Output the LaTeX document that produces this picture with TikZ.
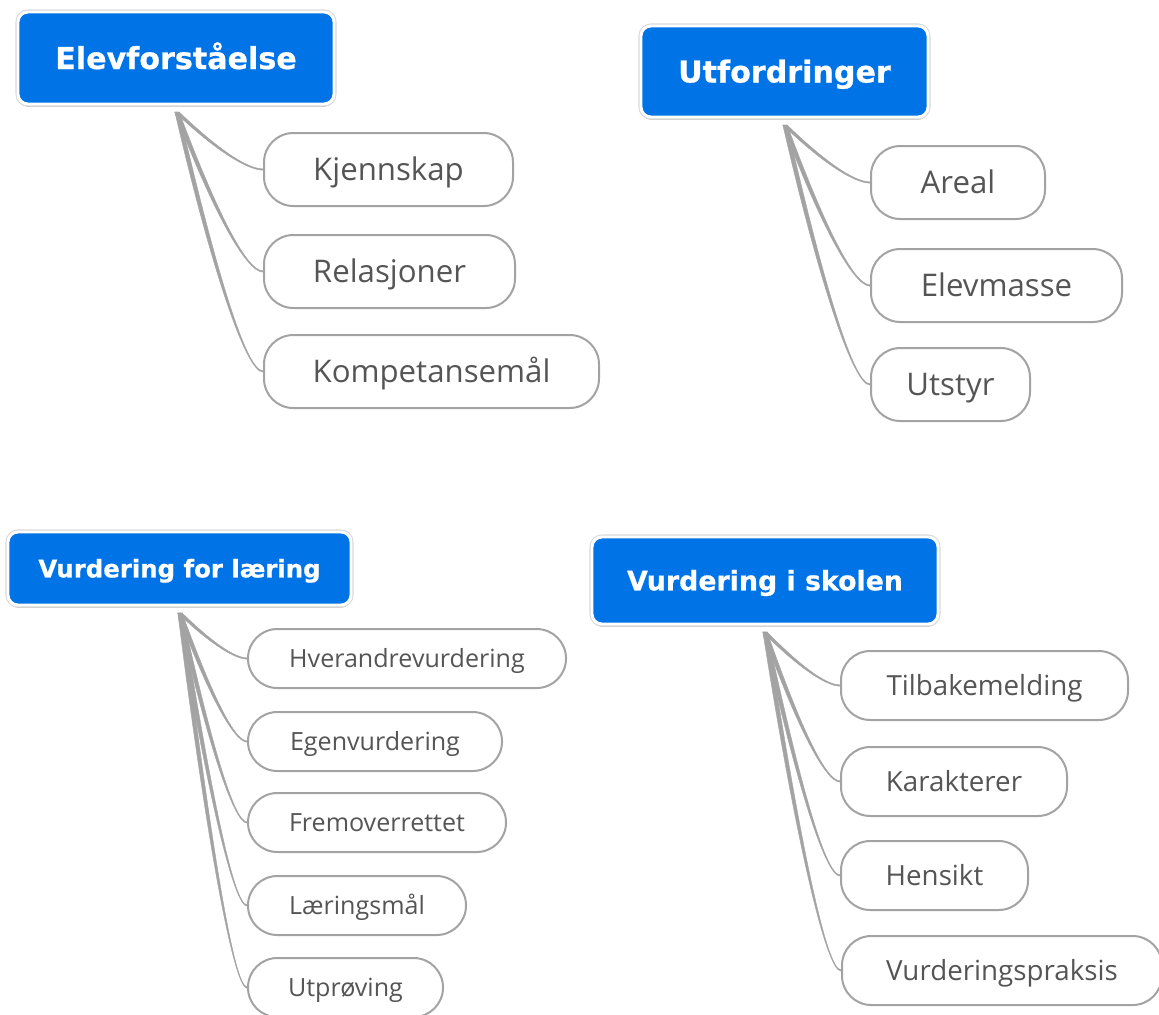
\documentclass[tikz,border=0pt]{standalone}
\usepackage{fontspec}
\setmainfont{Open Sans}
\newfontfamily\rootfont{DejaVu Sans Bold}[FakeBold=0.7]
\usetikzlibrary{calc,shadows,backgrounds}
\definecolor{mmblue}{HTML}{0073E6}
\definecolor{mmgray}{HTML}{A3A3A3}
\definecolor{mmtext}{HTML}{555555}
\tikzset{
  rootbox/.style={rectangle, rounded corners=7.5pt, fill=mmblue, draw=white, line width=2.2pt,
    text=white, inner sep=0pt, text depth=0pt,
    drop shadow={shadow xshift=0pt, shadow yshift=-2pt, opacity=0.35, fill=black},
    preaction={draw=black!15, line width=3.8pt}},
  leafbox/.style={rectangle, rounded corners=22pt, fill=white, draw=mmgray, line width=1.5pt,
    text=mmtext, inner sep=0pt, text depth=0pt},
  connfill/.style={fill=mmgray, draw=mmgray, line width=0.3pt}
}
% name, cx, cy, w, h, font size (pt), text
\newcommand\mmroot[7]{%
  \node[rootbox, minimum width={#4*0.75pt}, minimum height={#5*0.75pt}, text height={0.73*#6pt},
        font={\rootfont\fontsize{#6pt}{#6pt}\selectfont}] (#1) at (#2,#3) {#7};}
\newcommand\mmleaf[7]{%
  \node[leafbox, minimum width={#4*0.75pt}, minimum height={#5*0.75pt}, text height={0.714*#6pt},
        font={\fontsize{#6pt}{#6pt}\selectfont}] (#1) at (#2,#3) {#7};}
% tapered connector from coordinate #1 to node #2
\newcommand\mmconn[2]{%
  \fill[connfill] let \p1=(#1), \p2=(#2.west) in
    (\x1-1.6pt,\y1) .. controls ({\x1+0.42*(\x2-\x1)-1.6pt},{\y1+0.6*(\y2-\y1)})
      and ({\x2-0.2*(\x2-\x1)},{\y2-0.5pt}) .. (\x2,\y2-0.5pt)
    -- (\x2,\y2+0.5pt) .. controls ({\x2-0.2*(\x2-\x1)},{\y2+0.5pt})
      and ({\x1+0.42*(\x2-\x1)+1.6pt},{\y1+0.6*(\y2-\y1)}) .. (\x1+1.6pt,\y1) -- cycle;}
\begin{document}
\begin{tikzpicture}[x=0.75pt,y=-0.75pt]
\useasboundingbox (0,0) rectangle (1159,1014);

\coordinate (ef) at (177,112);
\coordinate (ut) at (785,125);
\coordinate (vl) at (180,613);
\coordinate (vs) at (765,632);

\mmleaf{kj}{388.5}{169.5}{249}{73}{23.4}{Kjennskap}
\mmleaf{re}{389.5}{271.5}{251}{73}{23.4}{Relasjoner}
\mmleaf{ko}{431.5}{371.5}{335}{73}{23.4}{Kompetansemål}

\mmleaf{ar}{958}{182.5}{174}{73}{23.4}{Areal}
\mmleaf{em}{996.5}{285.5}{251}{73}{23.4}{Elevmasse}
\mmleaf{us}{950.5}{384.5}{159}{73}{23.4}{Utstyr}

\mmleaf{hv}{407}{658.5}{318}{59}{18.8}{Hverandrevurdering}
\mmleaf{eg}{375}{741.5}{254}{59}{18.8}{Egenvurdering}
\mmleaf{fr}{377}{822.5}{258}{59}{18.8}{Fremoverrettet}
\mmleaf{lm}{357}{905.5}{218}{59}{18.8}{Læringsmål}
\mmleaf{up}{345.5}{987.5}{195}{59}{18.8}{Utprøving}

\mmleaf{tb}{984.5}{685.5}{287}{69}{20.8}{Tilbakemelding}
\mmleaf{ka}{954}{781.5}{226}{69}{20.8}{Karakterer}
\mmleaf{he}{934.5}{875.5}{187}{69}{20.8}{Hensikt}
\mmleaf{vp}{1002}{970.5}{320}{69}{20.8}{Vurderingspraksis}

\begin{pgfonlayer}{background}
\foreach \c in {kj,re,ko}{\mmconn{ef}{\c}}
\foreach \c in {ar,em,us}{\mmconn{ut}{\c}}
\foreach \c in {hv,eg,fr,lm,up}{\mmconn{vl}{\c}}
\foreach \c in {tb,ka,he,vp}{\mmconn{vs}{\c}}
\end{pgfonlayer}

\mmroot{r1}{176}{58}{316}{92}{22.6}{Elevforståelse}
\mmroot{r2}{784.5}{71.5}{287}{91}{22.6}{Utfordringer}
\mmroot{r3}{179.5}{568.5}{343}{73}{18.3}{Vurdering for læring}
\mmroot{r4}{765}{580.5}{346}{87}{20.1}{Vurdering i skolen}
\end{tikzpicture}
\end{document}
